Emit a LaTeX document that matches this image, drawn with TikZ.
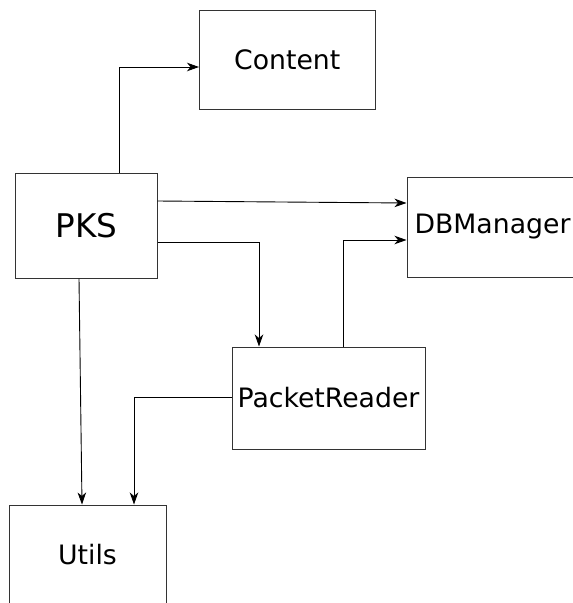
\documentclass[tikz,border=0pt]{standalone}
\usepackage{fontspec}
\setmainfont{DejaVu Sans}
\usetikzlibrary{arrows.meta}
\begin{document}
\begin{tikzpicture}[x=1pt,y=-1pt,
  modbox/.style={draw=black!80,line width=1pt,inner sep=0pt,
    font=\fontsize{26.7}{32}\selectfont},
  arr/.style={draw=black,line width=0.9pt,
    -{Stealth[length=12pt,width=8.5pt,inset=3.5pt]}}]
\clip (0,0) rectangle (573,603);
\fill[white] (0,0) rectangle (573,603);
% modules
\node[modbox,minimum width=141.5pt,minimum height=105pt,
  font=\fontsize{32.6}{38}\selectfont] (pks) at (86.25,225.5) {PKS};
\node[modbox,minimum width=175.5pt,minimum height=99.5pt] (content) at (287.25,59.75) {Content};
\node[modbox,minimum width=171pt,minimum height=100pt] (dbm) at (492.5,227) {DBManager};
\node[modbox,minimum width=193pt,minimum height=102pt] (pr) at (328.5,398) {PacketReader};
\node[modbox,minimum width=157pt,minimum height=100pt] (utils) at (87.5,555) {Utils};
% dependencies
\draw[arr] ([xshift=32.75pt]pks.north) |- ([yshift=-7.25pt]content.west);
\draw[arr] ([yshift=24.5pt]pks.east) -- ([yshift=24pt]dbm.west);
\draw[arr] ([yshift=-16.5pt]pks.east) -| ([xshift=-69.5pt]pr.north);
\draw[arr] ([xshift=14.5pt]pr.north) |- ([yshift=-13pt]dbm.west);
\draw[arr] ([xshift=-7.25pt]pks.south) -- ([xshift=-5.5pt]utils.north);
\draw[arr] ([yshift=1pt]pr.west) -| ([xshift=46.5pt]utils.north);
\end{tikzpicture}
\end{document}
